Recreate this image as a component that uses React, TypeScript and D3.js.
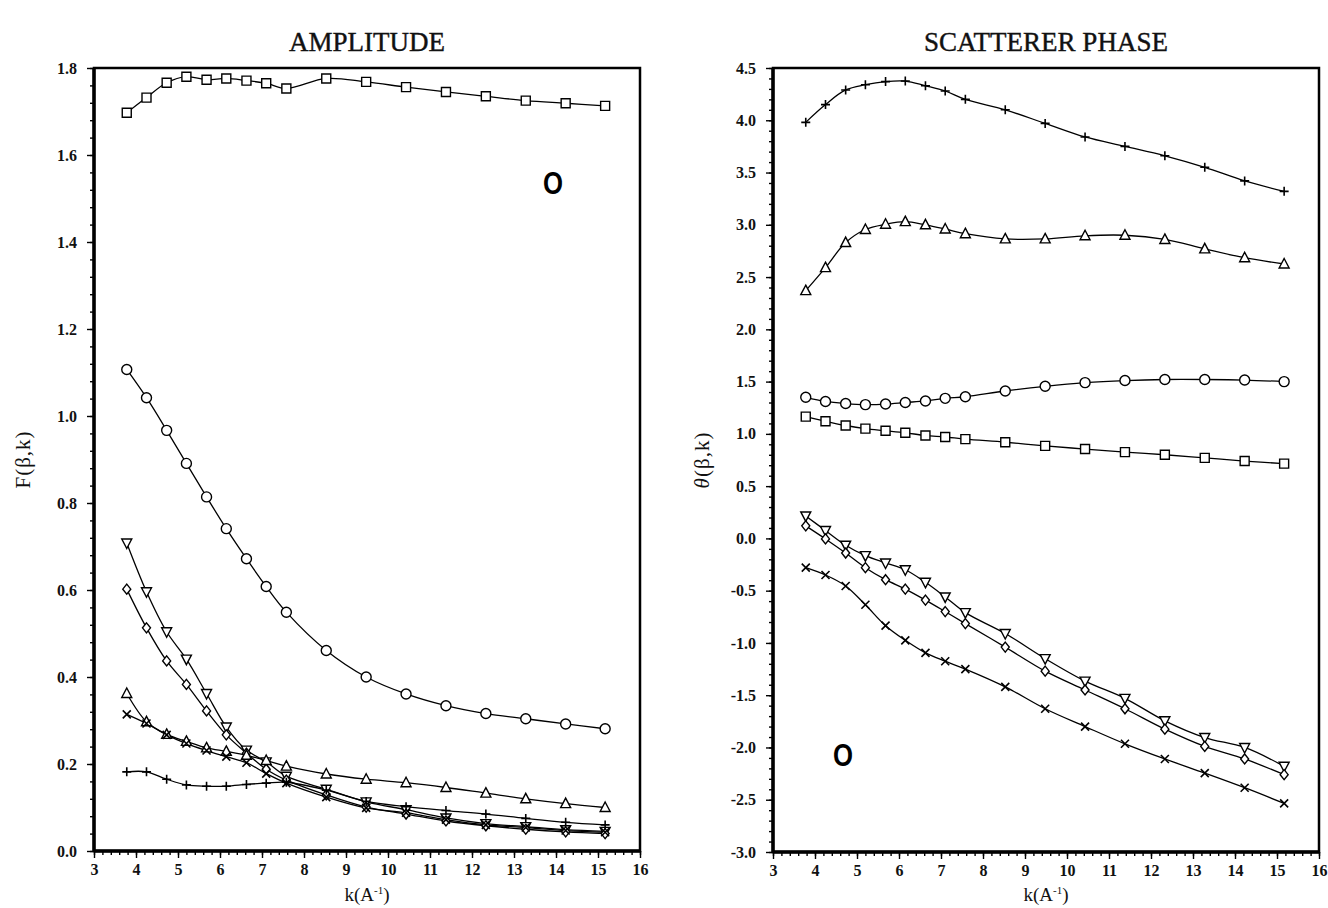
import React, { useEffect, useRef } from 'react';
import * as d3 from 'd3';

// k grid shared by both panels
const kValues = [3.78, 4.25, 4.73, 5.2, 5.68, 6.15, 6.63, 7.1, 7.58, 8.53, 9.48, 10.43, 11.38, 12.33, 13.28, 14.23, 15.17];

// AMPLITUDE panel
const ampSquare = [1.697, 1.732, 1.766, 1.78, 1.773, 1.776, 1.771, 1.765, 1.753, 1.776, 1.768, 1.756, 1.745, 1.735, 1.725, 1.719, 1.713];
const ampCircle = [1.107, 1.042, 0.967, 0.891, 0.814, 0.741, 0.672, 0.608, 0.549, 0.461, 0.4, 0.361, 0.334, 0.316, 0.304, 0.292, 0.281];
const ampDownTri = [0.708, 0.596, 0.504, 0.441, 0.362, 0.285, 0.232, 0.205, 0.172, 0.142, 0.113, 0.095, 0.076, 0.063, 0.056, 0.049, 0.045];
const ampDiamond = [0.602, 0.513, 0.437, 0.383, 0.322, 0.267, 0.225, 0.188, 0.163, 0.129, 0.101, 0.085, 0.069, 0.058, 0.05, 0.044, 0.04];
const ampUpTri = [0.362, 0.297, 0.268, 0.252, 0.237, 0.229, 0.22, 0.208, 0.195, 0.177, 0.165, 0.157, 0.146, 0.133, 0.12, 0.109, 0.1];
const ampCross = [0.314, 0.293, 0.267, 0.247, 0.231, 0.217, 0.203, 0.178, 0.156, 0.124, 0.099, 0.088, 0.072, 0.06, 0.054, 0.047, 0.043];
const ampPlus = [0.182, 0.182, 0.165, 0.152, 0.149, 0.149, 0.153, 0.156, 0.158, 0.14, 0.114, 0.102, 0.093, 0.085, 0.075, 0.066, 0.06];

// SCATTERER PHASE panel
const phPlus = [3.98, 4.15, 4.29, 4.34, 4.37, 4.375, 4.33, 4.28, 4.2, 4.1, 3.97, 3.84, 3.75, 3.66, 3.55, 3.42, 3.32];
const phUpTri = [2.37, 2.59, 2.83, 2.955, 3.005, 3.03, 3.0, 2.96, 2.915, 2.865, 2.865, 2.895, 2.9, 2.86, 2.77, 2.685, 2.625];
const phCircle = [1.35, 1.31, 1.29, 1.28, 1.285, 1.3, 1.315, 1.34, 1.355, 1.41, 1.455, 1.49, 1.51, 1.52, 1.52, 1.515, 1.5];
const phSquare = [1.165, 1.12, 1.08, 1.05, 1.03, 1.01, 0.985, 0.97, 0.95, 0.92, 0.885, 0.855, 0.825, 0.8, 0.77, 0.74, 0.715];
const phDownTri = [0.215, 0.075, -0.065, -0.165, -0.235, -0.3, -0.42, -0.56, -0.71, -0.91, -1.15, -1.365, -1.53, -1.745, -1.905, -2.0, -2.18];
const phDiamond = [0.12, -0.005, -0.14, -0.28, -0.395, -0.485, -0.59, -0.7, -0.815, -1.04, -1.27, -1.45, -1.63, -1.825, -1.99, -2.11, -2.26];
const phCross = [-0.28, -0.35, -0.455, -0.635, -0.835, -0.975, -1.095, -1.175, -1.25, -1.42, -1.63, -1.8, -1.965, -2.11, -2.245, -2.385, -2.535];

// tick labels
const kTicks = [3, 4, 5, 6, 7, 8, 9, 10, 11, 12, 13, 14, 15, 16];
const ampTicks = [0, 0.2, 0.4, 0.6, 0.8, 1.0, 1.2, 1.4, 1.6, 1.8];
const phTicks = [-3.0, -2.5, -2.0, -1.5, -1.0, -0.5, 0.0, 0.5, 1.0, 1.5, 2.0, 2.5, 3.0, 3.5, 4.0, 4.5];

const W = 1328;
const H = 908;
const SERIF = '"Liberation Serif", "DejaVu Serif", serif';

type Shape = 'square' | 'circle' | 'up' | 'down' | 'diamond' | 'plus' | 'cross';

const markerPath = (shape: Shape): string => {
  switch (shape) {
    case 'square': return 'M-4.5,-4.5H4.5V4.5H-4.5Z';
    case 'circle': return 'M-5,0a5,5 0 1,0 10,0a5,5 0 1,0 -10,0Z';
    case 'up': return 'M0,-5.5L5,4L-5,4Z';
    case 'down': return 'M0,5.5L5,-4L-5,-4Z';
    case 'diamond': return 'M0,-5L4,0L0,5L-4,0Z';
    case 'plus': return 'M-4.5,0H4.5M0,-4.5V4.5';
    case 'cross': return 'M-4,-4L4,4M-4,4L4,-4';
  }
};

const App = () => {
  const svgRef = useRef<SVGSVGElement>(null);

  useEffect(() => {
    if (!svgRef.current) return;
    const svg = d3.select(svgRef.current);
    svg.selectAll('*').remove();

    const drawPanel = (opts: {
      left: number; right: number; top: number; bottom: number;
      yDomain: [number, number]; yTicks: number[]; yMinorStep: number;
      series: { values: number[]; shape: Shape }[];
      title: string; yLabel: string; yLabelItalic: boolean;
      mark: [number, number];
    }) => {
      const x = d3.scaleLinear().domain([3, 16]).range([opts.left, opts.right]);
      const y = d3.scaleLinear().domain(opts.yDomain).range([opts.bottom, opts.top]);
      const g = svg.append('g');

      // minor ticks
      const xMinor = d3.range(3, 16.001, 0.2);
      const yMinor = d3.range(opts.yDomain[0], opts.yDomain[1] + 1e-6, opts.yMinorStep);

      const xAxisMinor = g.append('g')
        .attr('transform', `translate(0,${opts.bottom})`)
        .call(d3.axisBottom(x).tickValues(xMinor).tickSize(4).tickFormat(() => ''));
      const xAxis = g.append('g')
        .attr('transform', `translate(0,${opts.bottom})`)
        .call(d3.axisBottom(x).tickValues(kTicks).tickSize(7).tickPadding(6).tickFormat(d => String(d)));
      const yAxisMinor = g.append('g')
        .attr('transform', `translate(${opts.left},0)`)
        .call(d3.axisLeft(y).tickValues(yMinor).tickSize(4).tickFormat(() => ''));
      const yAxis = g.append('g')
        .attr('transform', `translate(${opts.left},0)`)
        .call(d3.axisLeft(y).tickValues(opts.yTicks).tickSize(7).tickPadding(10).tickFormat(d => (+d).toFixed(1)));

      [xAxisMinor, xAxis, yAxisMinor, yAxis].forEach(a => {
        a.select('.domain').remove();
        a.selectAll('line').attr('stroke', '#000').attr('stroke-width', 1.4);
        a.selectAll('text')
          .attr('font-family', SERIF)
          .attr('font-size', 16)
          .attr('font-weight', 'bold')
          .attr('fill', '#111');
      });

      // frame
      g.append('rect')
        .attr('x', opts.left).attr('y', opts.top)
        .attr('width', opts.right - opts.left).attr('height', opts.bottom - opts.top)
        .attr('fill', 'none').attr('stroke', '#000').attr('stroke-width', 2.5);
      g.append('line')
        .attr('x1', opts.left).attr('x2', opts.left)
        .attr('y1', opts.top).attr('y2', opts.bottom + 1)
        .attr('stroke', '#000').attr('stroke-width', 3.5);
      g.append('line')
        .attr('x1', opts.left).attr('x2', opts.right)
        .attr('y1', opts.bottom).attr('y2', opts.bottom)
        .attr('stroke', '#000').attr('stroke-width', 3.5);

      // curves
      const line = d3.line<number>()
        .x((_, i) => x(kValues[i]))
        .y(d => y(d))
        .curve(d3.curveCatmullRom.alpha(0.5));

      opts.series.forEach(s => {
        g.append('path')
          .attr('d', line(s.values))
          .attr('fill', 'none')
          .attr('stroke', '#000')
          .attr('stroke-width', 1.3);
      });
      opts.series.forEach(s => {
        const open = s.shape !== 'plus' && s.shape !== 'cross';
        g.append('g').selectAll('path')
          .data(s.values)
          .join('path')
          .attr('transform', (d, i) => `translate(${x(kValues[i])},${y(d)})`)
          .attr('d', markerPath(s.shape))
          .attr('fill', open ? '#fff' : 'none')
          .attr('stroke', '#000')
          .attr('stroke-width', open ? 1.4 : 1.6);
      });

      const cx = (opts.left + opts.right) / 2;
      // title
      svg.append('text')
        .attr('x', cx).attr('y', 51)
        .attr('text-anchor', 'middle')
        .attr('font-family', SERIF)
        .attr('font-size', 27)
        .attr('stroke', '#111')
        .attr('stroke-width', 0.4)
        .attr('fill', '#111')
        .text(opts.title);

      // x label
      const xl = svg.append('text')
        .attr('x', cx).attr('y', 901)
        .attr('text-anchor', 'middle')
        .attr('font-family', SERIF)
        .attr('font-size', 19)
        .attr('fill', '#111');
      xl.append('tspan').text('k(A');
      xl.append('tspan').attr('dy', -7).attr('font-size', 11).text('-1');
      xl.append('tspan').attr('dy', 7).text(')');

      // y label
      const yl = svg.append('text')
        .attr('transform', `translate(${opts.left - 64},${(opts.top + opts.bottom) / 2}) rotate(-90)`)
        .attr('text-anchor', 'middle')
        .attr('font-family', SERIF)
        .attr('font-size', 21)
        .attr('letter-spacing', 1)
        .attr('fill', '#111');
      yl.append('tspan').attr('font-style', opts.yLabelItalic ? 'italic' : 'normal').text(opts.yLabel);
      yl.append('tspan').text('(β,k)');

      // atom label
      g.append('text')
        .attr('x', opts.mark[0]).attr('y', opts.mark[1] + 11)
        .attr('text-anchor', 'middle')
        .attr('font-family', '"Liberation Sans", Arial, sans-serif')
        .attr('font-size', 31)
        .attr('font-weight', 'bold')
        .attr('textLength', 20)
        .attr('lengthAdjust', 'spacingAndGlyphs')
        .attr('fill', '#000')
        .text('O');
    };

    drawPanel({
      left: 94, right: 640, top: 68, bottom: 851,
      yDomain: [0, 1.8], yTicks: ampTicks, yMinorStep: 0.04,
      series: [
        { values: ampSquare, shape: 'square' },
        { values: ampCircle, shape: 'circle' },
        { values: ampDownTri, shape: 'down' },
        { values: ampDiamond, shape: 'diamond' },
        { values: ampUpTri, shape: 'up' },
        { values: ampCross, shape: 'cross' },
        { values: ampPlus, shape: 'plus' },
      ],
      title: 'AMPLITUDE', yLabel: 'F', yLabelItalic: false,
      mark: [553, 183],
    });

    drawPanel({
      left: 773, right: 1319, top: 68, bottom: 852,
      yDomain: [-3, 4.5], yTicks: phTicks, yMinorStep: 0.1,
      series: [
        { values: phPlus, shape: 'plus' },
        { values: phUpTri, shape: 'up' },
        { values: phCircle, shape: 'circle' },
        { values: phSquare, shape: 'square' },
        { values: phDownTri, shape: 'down' },
        { values: phDiamond, shape: 'diamond' },
        { values: phCross, shape: 'cross' },
      ],
      title: 'SCATTERER PHASE', yLabel: 'θ', yLabelItalic: true,
      mark: [843, 755],
    });
  }, []);

  return (
    <svg
      ref={svgRef}
      width={W}
      height={H}
      viewBox={`0 0 ${W} ${H}`}
      style={{ position: 'absolute', left: 0, top: 0, background: '#fff' }}
    />
  );
};

export default App;
